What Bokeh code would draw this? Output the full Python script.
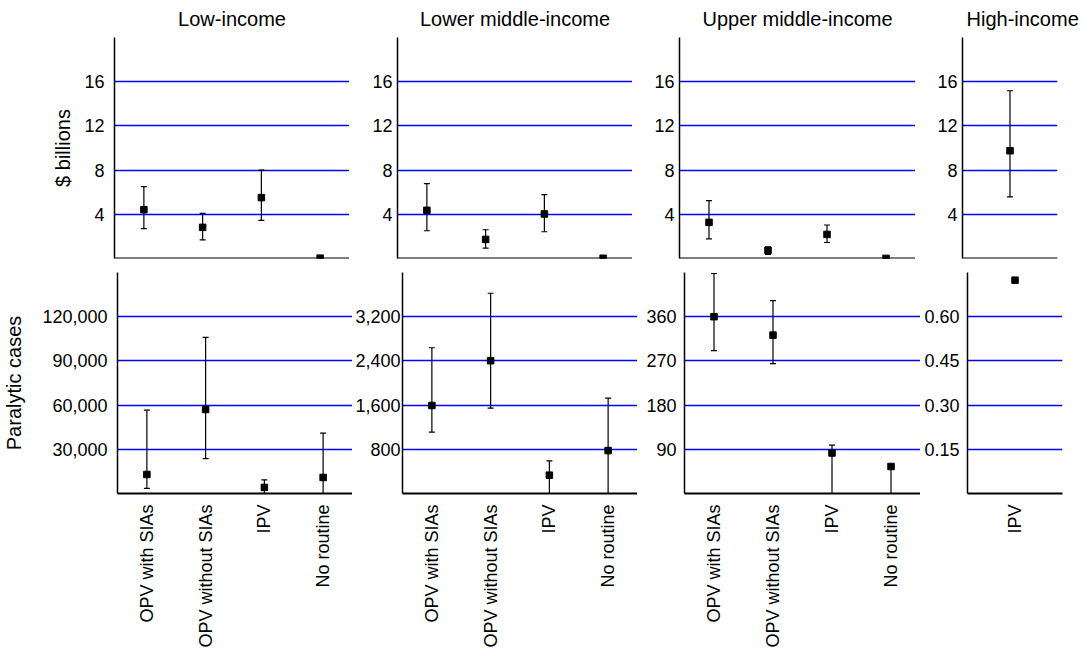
import math
from bokeh.plotting import figure
from bokeh.models import (ColumnDataSource, Whisker, TeeHead, Range1d, FactorRange,
                          FixedTicker, NumeralTickFormatter, Span)
from bokeh.layouts import column, row
from bokeh.embed import file_html
from bokeh.resources import INLINE

FONT = "Liberation Sans"

groups = ["Low-income", "Lower middle-income", "Upper middle-income", "High-income"]
categories = ["OPV with SIAs", "OPV without SIAs", "IPV", "No routine"]
high_categories = ["IPV"]

# Costs, $ billions
cost_low_mid = [4.42, 2.82, 5.51, 0.03]
cost_low_lo = [2.70, 1.69, 3.45, 0.03]
cost_low_hi = [6.50, 4.09, 8.00, 0.03]
cost_lmid_mid = [4.36, 1.73, 4.03, 0.02]
cost_lmid_lo = [2.51, 0.94, 2.42, 0.02]
cost_lmid_hi = [6.78, 2.60, 5.78, 0.02]
cost_umid_mid = [3.27, 0.73, 2.18, 0.01]
cost_umid_lo = [1.78, 0.36, 1.45, 0.01]
cost_umid_hi = [5.24, 1.05, 3.03, 0.01]
cost_high_mid = [9.75]
cost_high_lo = [5.57]
cost_high_hi = [15.18]

# Paralytic cases
cases_low_mid = [12900, 57030, 4120, 10880]
cases_low_lo = [3450, 23700, 0, 0]
cases_low_hi = [56550, 105900, 9260, 41000]
cases_lmid_mid = [1593, 2404, 332, 777]
cases_lmid_lo = [1112, 1544, 0, 0]
cases_lmid_hi = [2638, 3624, 589, 1725]
cases_umid_mid = [360, 322.5, 82.5, 55]
cases_umid_lo = [291, 264.3, 0, 0]
cases_umid_hi = [448, 392.6, 98.7, 55]
cases_high_mid = [0.724]
cases_high_lo = [0.724]
cases_high_hi = [0.724]

cost_ticks = [4, 8, 12, 16]
cases_low_ticks = [30000, 60000, 90000, 120000]
cases_lmid_ticks = [800, 1600, 2400, 3200]
cases_umid_ticks = [90, 180, 270, 360]
cases_high_ticks = [0.15, 0.30, 0.45, 0.60]


def make(cats, mid, lo, hi, ymax, ticks, fmt, fw, mbl, mbr, mbt, mbb,
         title=None, ylabel=None, top=True, tick_standoff=5, label_standoff=8,
         title_left=False, title_offset=0):
    p = figure(x_range=FactorRange(factors=cats, range_padding=0),
               y_range=Range1d(0, ymax),
               frame_width=fw, frame_height=221,
               min_border_left=mbl, min_border_right=mbr,
               min_border_top=mbt, min_border_bottom=mbb,
               output_backend="svg", toolbar_location=None, tools="",
               title=title)
    p.outline_line_color = None
    p.background_fill_color = "white"
    p.border_fill_color = "white"
    if title is not None:
        p.title.align = "left" if title_left else "center"
        p.title.offset = title_offset
        p.title.text_font = FONT
        p.title.text_font_size = "20px"
        p.title.text_font_style = "normal"
        p.title.text_color = "black"
        p.title.vertical_align = "top"
        p.title.standoff = 12

    p.xgrid.visible = False
    p.ygrid.ticker = FixedTicker(ticks=ticks)
    p.ygrid.grid_line_color = "#0000ff"
    p.ygrid.grid_line_width = 1.5

    ya = p.yaxis[0]
    ya.ticker = FixedTicker(ticks=ticks)
    ya.formatter = NumeralTickFormatter(format=fmt)
    ya.major_tick_out = 0
    ya.major_tick_in = 0
    ya.minor_tick_out = 0
    ya.minor_tick_in = 0
    ya.axis_line_width = 1.5
    ya.axis_line_color = "black"
    ya.major_label_text_font = FONT
    ya.major_label_text_font_size = "18px"
    ya.major_label_text_color = "black"
    ya.major_label_standoff = tick_standoff
    if ylabel:
        ya.axis_label = ylabel
        ya.axis_label_text_font = FONT
        ya.axis_label_text_font_size = "20px"
        ya.axis_label_text_font_style = "normal"
        ya.axis_label_text_color = "black"
        ya.axis_label_standoff = label_standoff

    xa = p.xaxis[0]
    if top:
        xa.visible = False
        p.add_layout(Span(location=0, dimension="width", line_color="black",
                          line_width=2))
    else:
        xa.major_tick_out = 0
        xa.major_tick_in = 0
        xa.axis_line_width = 2
        xa.axis_line_color = "black"
        xa.major_label_orientation = math.pi / 2
        xa.major_label_text_font = FONT
        xa.major_label_text_font_size = "18px"
        xa.major_label_text_color = "black"
        xa.major_label_standoff = 11

    src = ColumnDataSource(dict(x=cats, mid=mid, lo=lo, hi=hi))
    w = Whisker(base="x", lower="lo", upper="hi", source=src,
                line_color="black", line_width=1.2,
                upper_head=TeeHead(size=6, line_color="black", line_width=1.2),
                lower_head=TeeHead(size=6, line_color="black", line_width=1.2))
    w.level = "glyph"
    p.add_layout(w)
    p.scatter(x="x", y="mid", source=src, marker="square", size=6.5,
              fill_color="black", line_color="black")
    return p


t1 = make(categories, cost_low_mid, cost_low_lo, cost_low_hi, 20, cost_ticks, "0",
          235, 114, 0, 37, 7, title=groups[0], ylabel="$ billions",
          tick_standoff=10, label_standoff=7)
t2 = make(categories, cost_lmid_mid, cost_lmid_lo, cost_lmid_hi, 20, cost_ticks, "0",
          235, 48, 0, 37, 7, title=groups[1])
t3 = make(categories, cost_umid_mid, cost_umid_lo, cost_umid_hi, 20, cost_ticks, "0",
          236, 47, 0, 37, 7, title=groups[2])
t4 = make(high_categories, cost_high_mid, cost_high_lo, cost_high_hi, 20, cost_ticks, "0",
          95, 47, 28, 37, 7, title=groups[3], title_left=True, title_offset=4)

b1 = make(categories, cases_low_mid, cases_low_lo, cases_low_hi, 150000, cases_low_ticks, "0,0",
          235, 114, 0, 7, 5, ylabel="Paralytic cases", top=False,
          tick_standoff=10, label_standoff=14)
b2 = make(categories, cases_lmid_mid, cases_lmid_lo, cases_lmid_hi, 4000, cases_lmid_ticks, "0,0",
          235, 48, 0, 7, 5, top=False, tick_standoff=2)
b3 = make(categories, cases_umid_mid, cases_umid_lo, cases_umid_hi, 450, cases_umid_ticks, "0",
          236, 47, 0, 7, 5, top=False, tick_standoff=8)
b4 = make(high_categories, cases_high_mid, cases_high_lo, cases_high_hi, 0.75, cases_high_ticks, "0.00",
          95, 47, 28, 7, 5, top=False, tick_standoff=8)

layout = column(row(t1, t2, t3, t4), row(b1, b2, b3, b4))

open("out.html", "w").write(file_html(layout, INLINE))
